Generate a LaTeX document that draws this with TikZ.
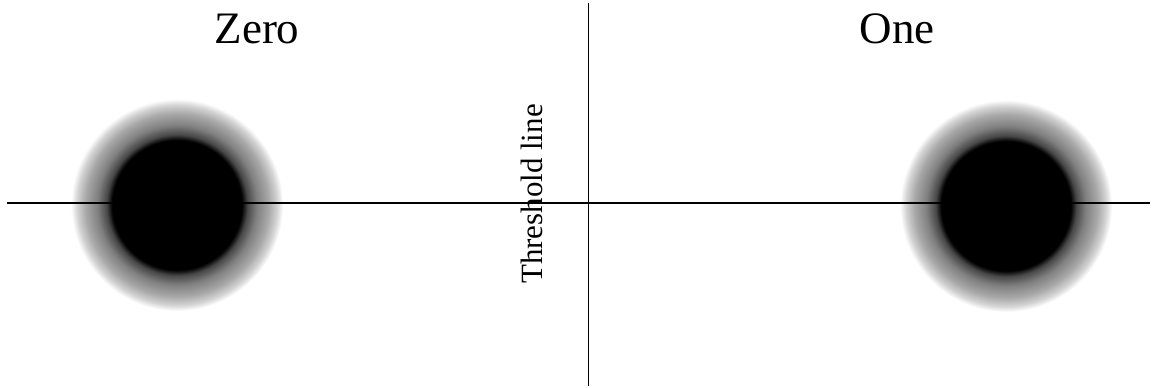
\documentclass[tikz,border=0pt]{standalone}
\usepackage{fontspec}
\setmainfont{Liberation Serif}
\usepackage{tikz}
\usetikzlibrary{calc, positioning}

\pgfdeclareradialshading{blobshade}{\pgfpoint{0bp}{0bp}}{%
    color(0bp)=(black); color(15.3bp)=(black); color(16.6bp)=(black!72);
    color(18.8bp)=(black!50); color(21.6bp)=(black!34); color(23.6bp)=(black!17);
    color(25bp)=(white); color(50bp)=(white)}

\begin{document}
\begin{tikzpicture}[
        x=0.025cm, y=-0.025cm,
        blob/.style={circle, minimum size=5.3cm, inner sep=0pt, shading=blobshade},
        title/.style={font=\fontsize{32}{36}\selectfont, anchor=base, inner sep=0pt},
        tlabel/.style={font=\fontsize{22}{25}\selectfont, anchor=base, inner sep=0pt, rotate=90},
        axis/.style={draw, line width=1.1pt},
        thresh/.style={draw, line width=0.6pt}
    ]
    \useasboundingbox (0,0) rectangle (1160,388);

    \node [blob] (zeroblob) at (177,205) {};
    \node [blob] (oneblob) at (1006,206) {};

    \node [title] (zerolbl) at (257,43) {Zero};
    \node [title] (onelbl) at (897,43) {One};
    \node [tlabel] (threshlbl) at (542,194) {Threshold line};

    \coordinate (axl) at (7,203);
    \coordinate (axr) at (1150,203);
    \coordinate (thtop) at (588,3);
    \coordinate (thbot) at (588,386);

    \draw [axis] (axl) -- (axr);
    \draw [thresh] (thtop) -- (thbot);
\end{tikzpicture}
\end{document}
